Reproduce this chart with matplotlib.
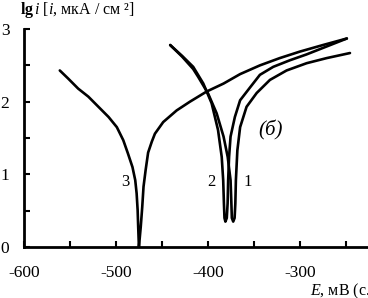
import matplotlib
matplotlib.use("Agg")
import matplotlib.pyplot as plt
from matplotlib.ticker import MultipleLocator

plt.rcParams['font.family'] = ['Liberation Serif', 'DejaVu Serif']
plt.rcParams['mathtext.fontset'] = 'custom'
plt.rcParams['mathtext.rm'] = 'Liberation Serif'
plt.rcParams['mathtext.it'] = 'Liberation Serif:italic'
plt.rcParams['mathtext.bf'] = 'Liberation Serif:bold'
plt.rcParams['axes.unicode_minus'] = False

# polarization curves: E, mV  vs  lg i
e3 = [-561, -552, -541, -530, -519, -508, -499, -492, -487, -482,
      -479, -477.5, -476.4, -475.8, -475, -473, -471.4, -470, -467.7,
      -465, -461, -457.6, -448.6, -434, -419.6, -401.4, -383, -365,
      -343.5, -322, -300, -275, -249]
lg3 = [2.43, 2.32, 2.18, 2.07, 1.93, 1.79, 1.65, 1.47, 1.29, 1.10,
       0.92, 0.74, 0.51, 0.28, 0.0, 0.28, 0.55, 0.83, 1.06,
       1.30, 1.45, 1.56, 1.72, 1.88, 2.00, 2.14, 2.25, 2.38,
       2.50, 2.60, 2.69, 2.78, 2.87]

e2 = [-441, -428, -416, -405, -396, -389, -385, -383.4, -382.6, -382,
      -381, -379.5, -378.6, -378, -377, -375.4, -370.7, -365, -354,
      -343.5, -329, -311, -293, -271, -249]
lg2 = [2.78, 2.63, 2.48, 2.25, 1.98, 1.61, 1.24, 0.92, 0.60, 0.40,
       0.35, 0.40, 0.60, 0.92, 1.24, 1.52, 1.79, 2.02, 2.20,
       2.37, 2.48, 2.57, 2.65, 2.76, 2.87]

e1 = [-441, -428, -416, -410.5, -399.7, -390.5, -383, -378.5, -375.4,
      -374.5, -374, -372.5, -371, -370.2, -369.6, -368, -365, -358,
      -347, -332.6, -314.5, -292.7, -271, -245.6]
lg1 = [2.78, 2.62, 2.45, 2.34, 2.11, 1.84, 1.52, 1.24, 0.92,
       0.60, 0.40, 0.35, 0.40, 0.60, 0.92, 1.33, 1.65, 1.93,
       2.12, 2.30, 2.43, 2.53, 2.60, 2.67]

curve_labels = ['1', '2', '3']
label_pos = [(-357, 0.90), (-396, 0.90), (-490, 0.90)]

fig = plt.figure(figsize=(3.68, 2.98), dpi=100)
ax = fig.add_axes([0.065, 0.171, 0.935, 0.7315])

for e, lg in [(e3, lg3), (e2, lg2), (e1, lg1)]:
    ax.plot(e, lg, color='black', lw=1.9, solid_joinstyle='round',
            solid_capstyle='round')

for txt, (x, y) in zip(curve_labels, label_pos):
    ax.text(x, y, txt, fontsize=12, ha='center', va='center')

ax.text(-332, 1.60, '(б)', fontsize=15, style='italic', ha='center', va='center')

ax.set_xlim(-600, -226)
ax.set_ylim(0, 3)
ax.spines['top'].set_visible(False)
ax.spines['right'].set_visible(False)
ax.spines['left'].set_linewidth(2)
ax.spines['bottom'].set_linewidth(2)

ax.xaxis.set_major_locator(MultipleLocator(100))
ax.xaxis.set_minor_locator(MultipleLocator(50))
ax.yaxis.set_major_locator(MultipleLocator(1))
ax.yaxis.set_minor_locator(MultipleLocator(0.5))
ax.tick_params(which='both', direction='in', length=4, width=1.5, labelsize=12.5)
ax.tick_params(axis='y', pad=10.5)
ax.tick_params(axis='x', pad=13)

fig.text(20 / 368, 1 - 14.5 / 298, r'$\mathbf{lg}\,i$ [$i$, мкА / см ²]',
         fontsize=11.5, ha='left', va='baseline')
fig.text(310 / 368, 3 / 298, r'$E$, мВ (с.в.э.)', fontsize=11.5,
         ha='left', va='baseline')

fig.savefig('out.png', dpi=100)
